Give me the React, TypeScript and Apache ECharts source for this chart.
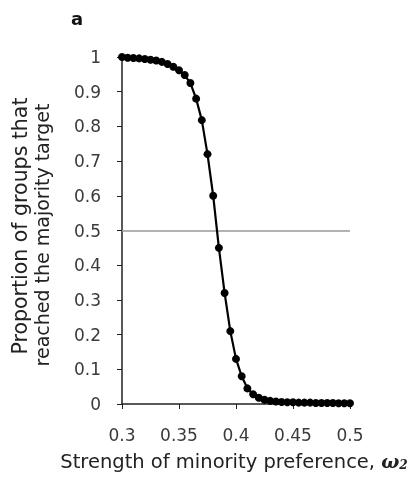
import React, { useEffect, useRef } from "react";
import * as echarts from "echarts";

const xValues = [
  0.3, 0.305, 0.31, 0.315, 0.32, 0.325, 0.33, 0.335, 0.34, 0.345,
  0.35, 0.355, 0.36, 0.365, 0.37, 0.375, 0.38, 0.385, 0.39, 0.395,
  0.4, 0.405, 0.41, 0.415, 0.42, 0.425, 0.43, 0.435, 0.44, 0.445,
  0.45, 0.455, 0.46, 0.465, 0.47, 0.475, 0.48, 0.485, 0.49, 0.495, 0.5,
];
const proportions = [
  1.0, 0.998, 0.997, 0.996, 0.994, 0.992, 0.99, 0.986, 0.98, 0.972,
  0.962, 0.948, 0.925, 0.88, 0.818, 0.72, 0.6, 0.45, 0.32, 0.21,
  0.13, 0.08, 0.045, 0.028, 0.018, 0.012, 0.009, 0.007, 0.006, 0.005,
  0.005, 0.004, 0.004, 0.004, 0.003, 0.003, 0.003, 0.003, 0.002, 0.002, 0.002,
];
const referenceLevel = 0.5;
const panelLabel = "a";
const yTitleLines = ["Proportion of groups that", "reached the majority target"];
const xTitle = "Strength of minority preference, ";

export default function App() {
  const ref = useRef<HTMLDivElement>(null);
  useEffect(() => {
    if (!ref.current) return;
    const chart = echarts.init(ref.current, null, { renderer: "svg" });
    const data = xValues.map((x, i) => [x, proportions[i]]);
    const font = "DejaVu Sans";
    chart.setOption({
      animation: false,
      grid: { left: 122, top: 57, width: 228, height: 347, containLabel: false },
      xAxis: {
        type: "value",
        min: 0.3,
        max: 0.5,
        interval: 0.05,
        axisLine: { lineStyle: { color: "#222", width: 1.5 } },
        axisTick: { show: true, length: 5, lineStyle: { color: "#222" } },
        splitLine: { show: false },
        axisLabel: {
          color: "#3a3a3a",
          fontFamily: font,
          fontSize: 17,
          margin: 22,
          formatter: (v: number) => String(+v.toFixed(2)),
        },
      },
      yAxis: {
        type: "value",
        min: 0,
        max: 1,
        interval: 0.1,
        axisLine: { show: true, lineStyle: { color: "#222", width: 1.5 } },
        axisTick: { show: true, length: 5, lineStyle: { color: "#222" } },
        splitLine: { show: false },
        axisLabel: {
          color: "#3a3a3a",
          fontFamily: font,
          fontSize: 17,
          margin: 21,
          formatter: (v: number) => String(+v.toFixed(1)),
        },
      },
      series: [
        {
          type: "line",
          data,
          symbol: "circle",
          symbolSize: 8,
          itemStyle: { color: "#000" },
          lineStyle: { color: "#000", width: 2.2 },
          z: 3,
          markLine: {
            silent: true,
            symbol: ["none", "none"],
            label: { show: false },
            lineStyle: { color: "#999", width: 1.5, type: "solid" },
            data: [{ yAxis: referenceLevel }],
            z: 2,
          },
        },
      ],
      graphic: [
        {
          type: "text",
          left: 71,
          top: 9,
          style: {
            text: panelLabel,
            fontFamily: font,
            fontWeight: "bold",
            fontSize: 18,
            fill: "#111",
          },
        },
        {
          type: "text",
          x: 20,
          y: 226,
          rotation: Math.PI / 2,
          style: {
            text: yTitleLines[0],
            fontFamily: font,
            fontSize: 20.5,
            fill: "#222",
            align: "center",
            verticalAlign: "middle",
          },
        },
        {
          type: "text",
          x: 42,
          y: 235,
          rotation: Math.PI / 2,
          style: {
            text: yTitleLines[1],
            fontFamily: font,
            fontSize: 19,
            fill: "#222",
            align: "center",
            verticalAlign: "middle",
          },
        },
        {
          type: "text",
          x: 234,
          y: 461,
          style: {
            text: xTitle + "{w|ω}{s|2}",
            fontFamily: font,
            fontSize: 19.5,
            fill: "#222",
            align: "center",
            verticalAlign: "middle",
            rich: {
              w: {
                fontFamily: "DejaVu Serif",
                fontStyle: "italic",
                fontWeight: "bold",
                fontSize: 19,
                fill: "#222",
              },
              s: {
                fontFamily: "DejaVu Serif",
                fontStyle: "italic",
                fontWeight: "bold",
                fontSize: 12,
                fill: "#222",
                padding: [8, 0, 0, 0],
              },
            },
          },
        },
      ],
    });
    return () => chart.dispose();
  }, []);
  return (
    <div
      ref={ref}
      style={{ position: "fixed", left: 0, top: 0, width: 419, height: 480 }}
    />
  );
}
